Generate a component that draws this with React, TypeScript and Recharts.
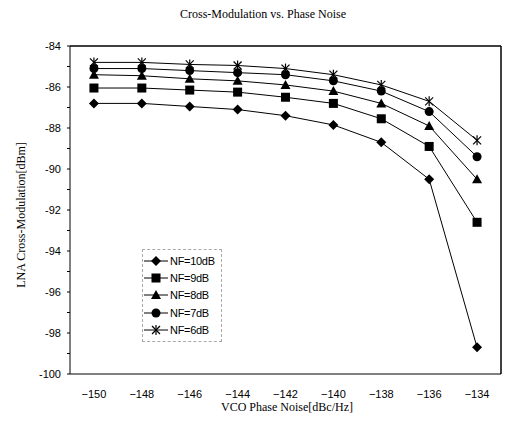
import React from "react";
import { LineChart, Line, XAxis, YAxis, ReferenceLine } from "recharts";

const phaseNoise = [-150, -148, -146, -144, -142, -140, -138, -136, -134];
const nf10 = [-86.8, -86.8, -86.95, -87.1, -87.4, -87.85, -88.7, -90.5, -98.7];
const nf9 = [-86.05, -86.05, -86.15, -86.25, -86.5, -86.8, -87.55, -88.9, -92.6];
const nf8 = [-85.4, -85.45, -85.6, -85.7, -85.9, -86.2, -86.8, -87.9, -90.5];
const nf7 = [-85.1, -85.1, -85.2, -85.3, -85.4, -85.7, -86.2, -87.2, -89.4];
const nf6 = [-84.8, -84.8, -84.9, -84.95, -85.1, -85.4, -85.9, -86.7, -88.6];
const yTicks = [-100, -99, -98, -97, -96, -95, -94, -93, -92, -91, -90, -89, -88, -87, -86, -85, -84];

const seriesNames = ["NF=10dB", "NF=9dB", "NF=8dB", "NF=7dB", "NF=6dB"];
const seriesKeys = ["nf10", "nf9", "nf8", "nf7", "nf6"];
const seriesShapes = ["diamond", "square", "triangle", "circle", "star"];

const data = phaseNoise.map((x, i) => ({
  x,
  nf10: nf10[i],
  nf9: nf9[i],
  nf8: nf8[i],
  nf7: nf7[i],
  nf6: nf6[i],
}));

function Marker({ shape, cx, cy }: { shape: string; cx: number; cy: number }) {
  if (cx == null || cy == null) return null;
  switch (shape) {
    case "diamond":
      return <polygon points={`${cx},${cy - 5} ${cx + 5},${cy} ${cx},${cy + 5} ${cx - 5},${cy}`} fill="#000" />;
    case "square":
      return <rect x={cx - 4.5} y={cy - 4.5} width={9} height={9} fill="#000" />;
    case "triangle":
      return <polygon points={`${cx},${cy - 5} ${cx + 5},${cy + 4} ${cx - 5},${cy + 4}`} fill="#000" />;
    case "circle":
      return <circle cx={cx} cy={cy} r={4.5} fill="#000" />;
    case "star":
      return (
        <g stroke="#000" strokeWidth={1.2}>
          <line x1={cx - 4} y1={cy - 4} x2={cx + 4} y2={cy + 4} />
          <line x1={cx - 4} y1={cy + 4} x2={cx + 4} y2={cy - 4} />
          <line x1={cx} y1={cy - 5} x2={cx} y2={cy + 5} />
        </g>
      );
    default:
      return null;
  }
}

const makeDot = (shape: string) => (props: any) => (
  <Marker key={`${shape}-${props.index}`} shape={shape} cx={props.cx} cy={props.cy} />
);

function LegendBox() {
  return (
    <div
      style={{
        position: "absolute",
        left: 134,
        top: 241,
        border: "1px dashed #aaa",
        width: 80,
        padding: "2px 0",
        boxSizing: "border-box",
        background: "#fff",
      }}
    >
      {seriesNames.map((name, i) => (
        <div key={name} style={{ display: "flex", alignItems: "center", height: 17.4 }}>
          <svg width={26} height={12}>
            <line x1={1} y1={6} x2={25} y2={6} stroke="#000" strokeWidth={1} />
            <Marker shape={seriesShapes[i]} cx={13} cy={6} />
          </svg>
          <span
            style={{
              fontFamily: "Liberation Sans, Arial, sans-serif",
              fontSize: 11,
              color: "#000",
              marginLeft: 1,
              letterSpacing: -0.3,
            }}
          >
            {name}
          </span>
        </div>
      ))}
    </div>
  );
}

const tickFont = { fontFamily: "Liberation Sans, Arial, sans-serif", fontSize: 11, fill: "#000" };
const serif = { fontFamily: "Liberation Serif, Times New Roman, serif", fontSize: 12, fill: "#000" };

export default function App() {
  return (
    <div style={{ position: "relative", width: 519, height: 413, background: "#fff" }}>
      <LineChart
        width={519}
        height={413}
        data={data}
        margin={{ top: 38, right: 26, bottom: 17, left: 22 }}
      >
        <text x={255} y={10} textAnchor="middle" style={serif}>
          Cross-Modulation vs. Phase Noise
        </text>
        <text x={17} y={207} textAnchor="middle" transform="rotate(-90 17 207)" style={serif}>
          LNA Cross-Modulation[dBm]
        </text>
        <text x={279} y={403} textAnchor="middle" style={serif}>
          VCO Phase Noise[dBc/Hz]
        </text>
        <XAxis
          dataKey="x"
          type="number"
          domain={[-151, -133]}
          ticks={phaseNoise}
          interval={0}
          tickLine={false}
          axisLine={{ stroke: "#000" }}
          tick={tickFont}
          tickMargin={10}
          height={30}
          tickFormatter={(v: number) => String(v).replace("-", "\u2212")}
        />
        <YAxis
          type="number"
          domain={[-100, -84]}
          ticks={yTicks}
          interval={0}
          width={40}
          tickSize={3}
          tickMargin={6}
          tickLine={{ stroke: "#000" }}
          axisLine={{ stroke: "#000" }}
          tick={tickFont}
          tickFormatter={(v: number) => (v % 2 === 0 ? String(v) : "")}
        />
        <ReferenceLine y={-84} stroke="#000" strokeWidth={1.5} ifOverflow="extendDomain" />
        <ReferenceLine x={-133} stroke="#000" strokeWidth={1.5} ifOverflow="extendDomain" />
        {seriesKeys.map((k, i) => (
          <Line
            key={k}
            dataKey={k}
            name={seriesNames[i]}
            stroke="#000"
            strokeWidth={1}
            dot={makeDot(seriesShapes[i])}
            activeDot={false}
            isAnimationActive={false}
          />
        ))}
      </LineChart>
      <LegendBox />
    </div>
  );
}
